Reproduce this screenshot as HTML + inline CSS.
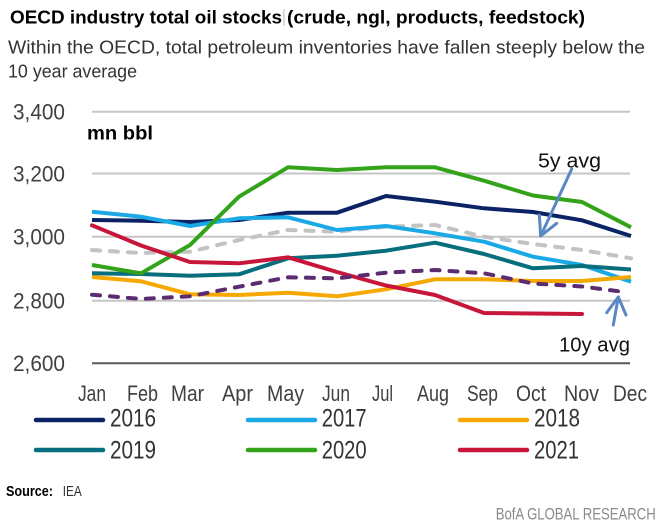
<!DOCTYPE html>
<html>
<head>
<meta charset="utf-8">
<style>
  html, body { margin: 0; padding: 0; background: #fff; }
  svg { display: block; }
  text { font-family: "Liberation Sans", "DejaVu Sans", sans-serif; }
</style>
</head>
<body>
<svg width="664" height="527" viewBox="0 0 664 527" xmlns="http://www.w3.org/2000/svg">
  <rect x="0" y="0" width="664" height="527" fill="#ffffff"/>

  <!-- Title -->
  <text x="10" y="23.5" font-size="18.5" font-weight="bold" fill="#000" textLength="272" lengthAdjust="spacingAndGlyphs">OECD industry total  oil stocks</text>
  <rect x="283.5" y="9" width="1" height="17" fill="#a9b8cc"/>
  <text x="287" y="23.5" font-size="18.5" font-weight="bold" fill="#000" textLength="298" lengthAdjust="spacingAndGlyphs">(crude, ngl, products, feedstock)</text>

  <!-- Subtitle -->
  <text x="8" y="53.3" font-size="18.5" fill="#333" textLength="637" lengthAdjust="spacingAndGlyphs">Within the OECD, total petroleum inventories have fallen steeply below the</text>
  <text x="8" y="77.3" font-size="18.5" fill="#333" textLength="129" lengthAdjust="spacingAndGlyphs">10 year average</text>

  <!-- Gridlines -->
  <g stroke="#c6c6c6" stroke-width="2">
    <line x1="92" y1="111.7" x2="630" y2="111.7"/>
    <line x1="92" y1="173.5" x2="630" y2="173.5"/>
    <line x1="92" y1="236.7" x2="630" y2="236.7"/>
    <line x1="92" y1="300.8" x2="630" y2="300.8"/>
  </g>
  <line x1="92" y1="363.3" x2="630" y2="363.3" stroke="#595959" stroke-width="2"/>

  <!-- Y labels -->
  <g font-size="22" fill="#404040">
    <text x="13" y="119.5" textLength="52" lengthAdjust="spacingAndGlyphs">3,400</text>
    <text x="13" y="181.5" textLength="52" lengthAdjust="spacingAndGlyphs">3,200</text>
    <text x="13" y="244.5" textLength="52" lengthAdjust="spacingAndGlyphs">3,000</text>
    <text x="13" y="308.5" textLength="52" lengthAdjust="spacingAndGlyphs">2,800</text>
    <text x="13" y="371" textLength="52" lengthAdjust="spacingAndGlyphs">2,600</text>
  </g>

  <text x="87" y="139.3" font-size="19" font-weight="bold" fill="#000" textLength="66" lengthAdjust="spacingAndGlyphs">mn bbl</text>

  <!-- Month labels -->
  <g font-size="22" fill="#404040">
    <text x="78" y="401" textLength="28" lengthAdjust="spacingAndGlyphs">Jan</text>
    <text x="127" y="401" textLength="31" lengthAdjust="spacingAndGlyphs">Feb</text>
    <text x="171" y="401" textLength="33" lengthAdjust="spacingAndGlyphs">Mar</text>
    <text x="222" y="401" textLength="31" lengthAdjust="spacingAndGlyphs">Apr</text>
    <text x="267" y="401" textLength="37" lengthAdjust="spacingAndGlyphs">May</text>
    <text x="322" y="401" textLength="28" lengthAdjust="spacingAndGlyphs">Jun</text>
    <text x="372" y="401" textLength="21" lengthAdjust="spacingAndGlyphs">Jul</text>
    <text x="417" y="401" textLength="32" lengthAdjust="spacingAndGlyphs">Aug</text>
    <text x="467" y="401" textLength="31" lengthAdjust="spacingAndGlyphs">Sep</text>
    <text x="516" y="401" textLength="30" lengthAdjust="spacingAndGlyphs">Oct</text>
    <text x="564" y="401" textLength="35" lengthAdjust="spacingAndGlyphs">Nov</text>
    <text x="613" y="401" textLength="34" lengthAdjust="spacingAndGlyphs">Dec</text>
  </g>

  <!-- Series -->
  <g fill="none" stroke-width="4" stroke-linejoin="round">
    <!-- 5y avg -->
    <polyline stroke="#c3c3c3" stroke-dasharray="8 10" stroke-linecap="round"
      points="92,250 141,253 190,251.7 239,240 288,230 337,231.7 386,226.7 435,225 484,236.7 533,244 582,250 631,258.3"/>
    <!-- 2016 -->
    <polyline stroke="#0b2265"
      points="92,220 141,220.7 190,222 239,220 288,212.7 337,212.7 386,196 435,201.7 484,208.3 533,212 582,220.3 631,236"/>
    <!-- 2017 -->
    <polyline stroke="#19a9e5"
      points="92,211.7 141,216.7 190,226 239,218.3 288,217.3 337,230 386,226 435,233.3 484,241.7 533,256.7 582,265 631,281.7"/>
    <!-- 2018 -->
    <polyline stroke="#f5a900"
      points="92,277 141,281.3 190,294.3 239,295 288,292.7 337,296.3 386,289.3 435,279.3 484,279.3 533,281 582,281 631,277"/>
    <!-- 2019 -->
    <polyline stroke="#066e7d"
      points="92,273.3 141,274 190,275.7 239,274.3 288,258.3 337,255.7 386,250.7 435,242.7 484,254 533,268.3 582,266 631,269.5"/>
    <!-- 2020 -->
    <polyline stroke="#33a319"
      points="92,265 141,273.3 190,245 239,196.7 288,167.3 337,170 386,167.3 435,167.3 484,180.7 533,195.5 582,202 631,227.3"/>
    <!-- 2021 -->
    <polyline stroke="#c8163a" stroke-linecap="round"
      points="92,225.3 141,245.5 190,262 239,263.3 288,257.3 337,272 386,285.5 435,295 484,313 533,313.5 582,314"/>
    <!-- 10y avg -->
    <polyline stroke="#5b2c6f" stroke-dasharray="8 10" stroke-linecap="round"
      points="92,294.7 141,299 190,296.3 239,286.7 288,277.3 337,278.3 386,272.7 435,270 484,273.3 533,283.5 582,286.5 622,291.7"/>
  </g>

  <!-- Annotations -->
  <text x="538" y="167.3" font-size="20" fill="#111" textLength="63" lengthAdjust="spacingAndGlyphs">5y avg</text>
  <g stroke="#5b87c2" stroke-width="3" fill="none" stroke-linecap="round" stroke-linejoin="round">
    <line x1="571.7" y1="169" x2="540.7" y2="236"/>
    <polyline points="539.3,215 540.7,236 556.7,223.3"/>
    <line x1="613.3" y1="325" x2="618.3" y2="297"/>
    <polyline points="606.7,312.7 618.3,297 626,315"/>
  </g>
  <text x="559" y="351.7" font-size="20" fill="#111" textLength="71" lengthAdjust="spacingAndGlyphs">10y avg</text>

  <!-- Legend -->
  <g stroke-width="4.5" stroke-linecap="round">
    <line x1="36" y1="420" x2="103" y2="420" stroke="#0b2265"/>
    <line x1="248" y1="420" x2="315" y2="420" stroke="#19a9e5"/>
    <line x1="460" y1="420" x2="527" y2="420" stroke="#f5a900"/>
    <line x1="36" y1="450" x2="103" y2="450" stroke="#066e7d"/>
    <line x1="248" y1="450" x2="315" y2="450" stroke="#33a319"/>
    <line x1="460" y1="450" x2="527" y2="450" stroke="#c8163a"/>
  </g>
  <g font-size="25" fill="#333">
    <text x="110" y="426.7" textLength="46" lengthAdjust="spacingAndGlyphs">2016</text>
    <text x="321.7" y="426.7" textLength="45" lengthAdjust="spacingAndGlyphs">2017</text>
    <text x="534" y="426.7" textLength="46" lengthAdjust="spacingAndGlyphs">2018</text>
    <text x="110" y="458.3" textLength="46" lengthAdjust="spacingAndGlyphs">2019</text>
    <text x="321.7" y="458.3" textLength="45" lengthAdjust="spacingAndGlyphs">2020</text>
    <text x="534" y="458.3" textLength="45" lengthAdjust="spacingAndGlyphs">2021</text>
  </g>

  <!-- Footer -->
  <text x="6" y="496" font-size="15" font-weight="bold" fill="#000" textLength="47" lengthAdjust="spacingAndGlyphs">Source:</text>
  <text x="62.7" y="496" font-size="15" fill="#333" textLength="19" lengthAdjust="spacingAndGlyphs">IEA</text>
  <text x="495.7" y="519.3" font-size="17" fill="#8a8a8a" textLength="160" lengthAdjust="spacingAndGlyphs">BofA GLOBAL RESEARCH</text>
</svg>
</body>
</html>
